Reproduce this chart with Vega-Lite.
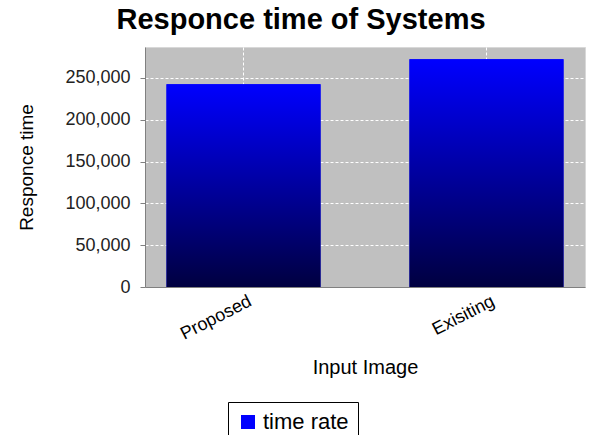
{
  "$schema": "https://vega.github.io/schema/vega-lite/v6.json",
  "width": 440,
  "height": 240,
  "autosize": {"type": "none"},
  "padding": {"left": 145, "top": 47, "right": 4, "bottom": 148},
  "background": "white",
  "config": {
    "view": {"fill": "#c0c0c0", "stroke": "#d8d8d8"},
    "font": "Liberation Sans"
  },
  "title": {
    "text": "Responce time of Systems",
    "fontSize": 29,
    "fontWeight": "bold",
    "font": "Liberation Sans",
    "color": "black",
    "frame": "bounds",
    "anchor": "middle",
    "baseline": "alphabetic",
    "offset": 18,
    "dy": 29
  },
  "data": {
    "values": [
      {"system": "Proposed", "time": 242500, "series": "time rate"},
      {"system": "Exisiting", "time": 272400, "series": "time rate"}
    ]
  },
  "encoding": {
    "x": {
      "field": "system",
      "type": "nominal",
      "sort": null,
      "scale": {"paddingInner": 0.366, "paddingOuter": 0.0885},
      "axis": {
        "title": "Input Image",
        "titleFontSize": 20,
        "titleFontWeight": "normal",
        "titleColor": "black",
        "titleY": 70,
        "titleBaseline": "top",
        "labelAngle": -27,
        "labelAlign": "right",
        "labelBaseline": "middle",
        "labelFontSize": 18,
        "labelColor": "black",
        "labelPadding": 13,
        "labelOffset": 7,
        "ticks": false,
        "grid": true,
        "gridColor": "white",
        "gridDash": [3, 2],
        "domainColor": "#808080"
      }
    },
    "y": {
      "field": "time",
      "type": "quantitative",
      "scale": {"domain": [0, 287000], "nice": false},
      "axis": {
        "title": "Responce time",
        "titleFontSize": 19,
        "titleFontWeight": "normal",
        "titleColor": "black",
        "titleX": -109,
        "titleY": 120,
        "titleAlign": "center",
        "titleBaseline": "bottom",
        "values": [0, 50000, 100000, 150000, 200000, 250000],
        "format": ",d",
        "labelFontSize": 18,
        "labelColor": "#222222",
        "tickSize": 5,
        "tickColor": "#808080",
        "labelPadding": 10,
        "grid": true,
        "gridColor": "white",
        "gridDash": [3, 2],
        "domainColor": "#808080"
      }
    }
  },
  "layer": [
    {
      "mark": {"type": "bar"},
      "encoding": {
        "color": {
          "field": "series",
          "type": "nominal",
          "scale": {"range": ["#0000ff"]},
          "legend": {
            "title": null,
            "orient": "none",
            "legendX": 83,
            "legendY": 355,
            "strokeColor": "black",
            "fillColor": "white",
            "padding": 9,
            "symbolType": "square",
            "symbolSize": 196,
            "symbolStrokeWidth": 0,
            "labelFontSize": 22,
            "labelColor": "black"
          }
        }
      }
    },
    {
      "mark": {
        "type": "bar",
        "color": {
          "gradient": "linear",
          "x1": 0, "y1": 0, "x2": 0, "y2": 1,
          "stops": [
            {"offset": 0, "color": "#0000ff"},
            {"offset": 1, "color": "#000040"}
          ]
        }
      }
    }
  ]
}
